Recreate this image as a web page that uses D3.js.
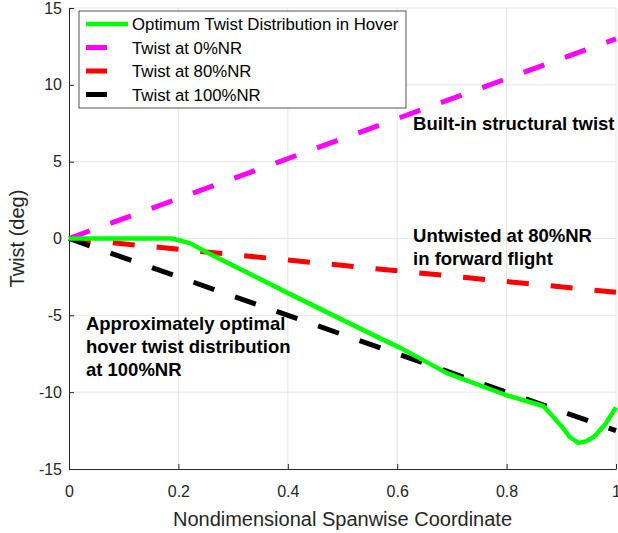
<!DOCTYPE html>
<html>
<head>
<meta charset="utf-8">
<script src="https://cdn.jsdelivr.net/npm/d3@7"></script>
<style>
  body { margin: 0; background: #fff; }
  text { font-family: "Liberation Sans", Arial, Helvetica, sans-serif; }
</style>
</head>
<body>
<div id="chart"></div>
<script>
// data
var optX    = [0, 0.1, 0.188, 0.221, 0.249, 0.404, 0.569, 0.605, 0.691, 0.8, 0.867, 0.88, 0.9, 0.915, 0.931, 0.945, 0.96, 0.98, 1.0];
var optY    = [0, 0, 0, -0.3, -0.85, -3.62, -6.5, -7.1, -8.76, -10.2, -10.9, -11.4, -12.2, -12.9, -13.3, -13.2, -12.9, -12.1, -11.0];
var linX    = [0, 1];
var twist0  = [0, 13];
var twist80 = [0, -3.5];
var twist100 = [0, -12.5];

var xTicks = [0, 0.2, 0.4, 0.6, 0.8, 1];
var yTicks = [-15, -10, -5, 0, 5, 10, 15];
var legendNames = ["Optimum Twist Distribution in Hover", "Twist at 0%NR", "Twist at 80%NR", "Twist at 100%NR"];
var colors = ["#00ff00", "#ff00ff", "#ff0000", "#000000"];

// set the dimensions and margins of the graph
var margin = {top: 8, right: 2, bottom: 64, left: 69},
    width = 618 - margin.left - margin.right,
    height = 533 - margin.top - margin.bottom;

var svg = d3.select("#chart")
            .append("svg")
            .attr("width", 618)
            .attr("height", 533)
            .append("g")
            .attr("transform", `translate(${margin.left},${margin.top})`);

let x = d3.scaleLinear().domain([0, 1]).range([0, width]);
let y = d3.scaleLinear().domain([-15, 15]).range([height, 0]);

// grid
svg.append("g").selectAll("line")
    .data(xTicks.slice(1))
    .enter().append("line")
    .attr("x1", d => x(d)).attr("x2", d => x(d))
    .attr("y1", 0).attr("y2", height)
    .attr("stroke", "#e6e6e6").attr("stroke-width", 1);

svg.append("g").selectAll("line")
    .data(yTicks.slice(1))
    .enter().append("line")
    .attr("x1", 0).attr("x2", width)
    .attr("y1", d => y(d)).attr("y2", d => y(d))
    .attr("stroke", "#e6e6e6").attr("stroke-width", 1);

// axes (hyphen minus like the original)
let fmt = d => String(d);
let xAxis = d3.axisBottom(x).tickValues(xTicks).tickSizeInner(-5).tickSizeOuter(0).tickPadding(17).tickFormat(fmt);
let yAxis = d3.axisLeft(y).tickValues(yTicks).tickSizeInner(-5).tickSizeOuter(0).tickPadding(7).tickFormat(fmt);

svg.append("g")
    .attr("class", "x axis")
    .attr("transform", `translate(0, ${height})`)
    .call(xAxis)
    .call(g => g.selectAll("text").style("font-size", "16px").attr("fill", "#262626"))
    .call(g => g.selectAll("line, path").attr("stroke", "#262626"));

svg.append("g")
    .attr("class", "y axis")
    .call(yAxis)
    .call(g => g.selectAll("text").style("font-size", "16px").attr("fill", "#262626"))
    .call(g => g.selectAll("line, path").attr("stroke", "#262626"));

svg.append("text")
    .attr("x", width / 2)
    .attr("y", height + 57)
    .attr("text-anchor", "middle")
    .style("font-size", "20px")
    .attr("fill", "#262626")
    .text("Nondimensional Spanwise Coordinate");

svg.append("text")
    .attr("transform", `translate(${-45}, ${height / 2}) rotate(-90)`)
    .attr("text-anchor", "middle")
    .style("font-size", "20px")
    .attr("fill", "#262626")
    .text("Twist (deg)");

// lines
let line = d3.line().x(d => x(d[0])).y(d => y(d[1]));

function drawSeries(xs, ys, color, dashed) {
  svg.append("path")
      .datum(xs.map((d, i) => [d, ys[i]]))
      .attr("d", line)
      .attr("fill", "none")
      .attr("stroke", color)
      .attr("stroke-width", dashed ? 5 : 4.5)
      .attr("stroke-linejoin", "round")
      .attr("stroke-dasharray", dashed ? "22,22" : null);
}

drawSeries(linX, twist0, colors[1], true);
drawSeries(linX, twist80, colors[2], true);
drawSeries(linX, twist100, colors[3], true);
drawSeries(optX, optY, colors[0], false);

// annotations
let notes = [
  {x: 0.629, y: 130, lines: ["Built-in structural twist"]},
  {x: 0.629, y: 242, lines: ["Untwisted at 80%NR", "in forward flight"]},
  {x: 0.031, y: 330, lines: ["Approximately optimal", "hover twist distribution", "at 100%NR"]}
];
notes.forEach(function(n) {
  let t = svg.append("text")
      .attr("x", x(n.x))
      .attr("y", n.y - margin.top)
      .style("font-size", "18.5px")
      .style("font-weight", "bold")
      .attr("fill", "#000");
  n.lines.forEach(function(s, i) {
    t.append("tspan").attr("x", x(n.x)).attr("dy", i == 0 ? 0 : 23).text(s);
  });
});

// legend
let lg = svg.append("g").attr("transform", `translate(${79 - margin.left}, ${11 - margin.top})`);
lg.append("rect")
    .attr("width", 327).attr("height", 97)
    .attr("fill", "#fff").attr("stroke", "#262626").attr("stroke-width", 0.8);

legendNames.forEach(function(name, i) {
  let yy = 13 + i * 23.5;
  lg.append("line")
      .attr("x1", 7).attr("x2", i == 0 ? 49 : 28)
      .attr("y1", yy).attr("y2", yy)
      .attr("stroke", colors[i])
      .attr("stroke-width", i == 0 ? 4.5 : 5);
  lg.append("text")
      .attr("x", 53).attr("y", yy + 6)
      .style("font-size", "16.8px")
      .attr("fill", "#000")
      .text(name);
});
</script>
</body>
</html>
